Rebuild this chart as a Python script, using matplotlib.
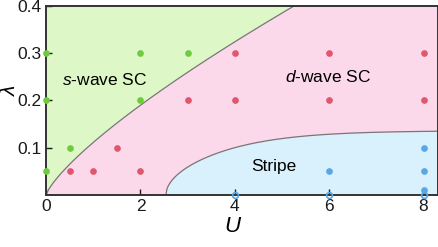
import numpy as np
from matplotlib import pyplot as plt

plt.rcParams['font.family'] = ['Liberation Sans', 'DejaVu Sans']
plt.rcParams['mathtext.fontset'] = 'custom'
plt.rcParams['mathtext.it'] = 'Liberation Sans:italic'
plt.rcParams['mathtext.rm'] = 'Liberation Sans'

# simulation points (U, lambda)
s_wave_U = [0, 2, 3, 0, 2, 0, 0.5]
s_wave_lam = [0.3, 0.3, 0.3, 0.2, 0.2, 0.05, 0.1]

d_wave_U = [4, 6, 8, 3, 4, 6, 8, 0.5, 1, 2, 1.5]
d_wave_lam = [0.3, 0.3, 0.3, 0.2, 0.2, 0.2, 0.2, 0.05, 0.05, 0.05, 0.1]

stripe_U = [6, 8, 8, 8]
stripe_lam = [0.05, 0.1, 0.05, 0.01]

stripe_open_U = [4, 6, 8]
stripe_open_lam = [0, 0, 0]

# phase boundaries
U = np.linspace(0, 8.3, 400)
sd_line = 0.1 * (U / 0.87) ** 0.77
U_st = np.linspace(2.54, 8.3, 300)
stripe_line = 0.136 * np.sqrt(np.tanh((U_st - 2.54) / 2.4))

fig = plt.figure(figsize=(4.39, 2.47), dpi=100)
ax = fig.add_axes([0.105, 0.21, 0.892, 0.767])
ax.set_facecolor('#fbd9ea')

ax.fill_between(U, sd_line, 0.5, color='#ddf8c6', lw=0)
ax.plot(U, sd_line, color='#777777', lw=0.9)
ax.fill_between(U_st, 0, stripe_line, color='#d9f1fc', lw=0)
ax.plot(U_st, stripe_line, color='#777777', lw=0.9)

ax.plot(s_wave_U, s_wave_lam, 'o', color='#6ccc3a', ms=3.8, clip_on=False, zorder=5)
ax.plot(d_wave_U, d_wave_lam, 'o', color='#e0566f', ms=3.8, clip_on=False, zorder=5)
ax.plot(stripe_U, stripe_lam, 'o', color='#5aa6e6', ms=3.8, clip_on=False, zorder=5)
ax.plot(stripe_open_U, stripe_open_lam, 'o', mfc='none', mec='#5aa6e6', mew=1.2, ms=4.2,
        clip_on=False, zorder=6)

ax.text(0.34, 0.243, r'$s$-wave SC', fontsize=12.5, va='center', ha='left')
ax.text(5.98, 0.25, r'$d$-wave SC', fontsize=12.5, va='center', ha='center')
ax.text(4.83, 0.06, 'Stripe', fontsize=12.5, va='center', ha='center')

ax.set_xlim(0, 8.3)
ax.set_ylim(0, 0.4)
ax.set_xticks([0, 2, 4, 6, 8])
ax.set_yticks([0.1, 0.2, 0.3, 0.4])
ax.set_yticklabels(['0.1', '0.2', '0.3', '0.4'])
ax.tick_params(direction='in', length=4, width=1, labelsize=12.5, colors='#1a1a1a', pad=3)
ax.set_xlabel(r'$U$', fontsize=16)
ax.set_ylabel(r'$\lambda$', fontsize=15)
ax.xaxis.set_label_coords(0.477, -0.11)
ax.yaxis.set_label_coords(-0.07, 0.555)
for s in ax.spines.values():
    s.set_linewidth(1.4)
    s.set_color('#333333')
    s.set_zorder(4)

fig.savefig('out.png', dpi=100)
